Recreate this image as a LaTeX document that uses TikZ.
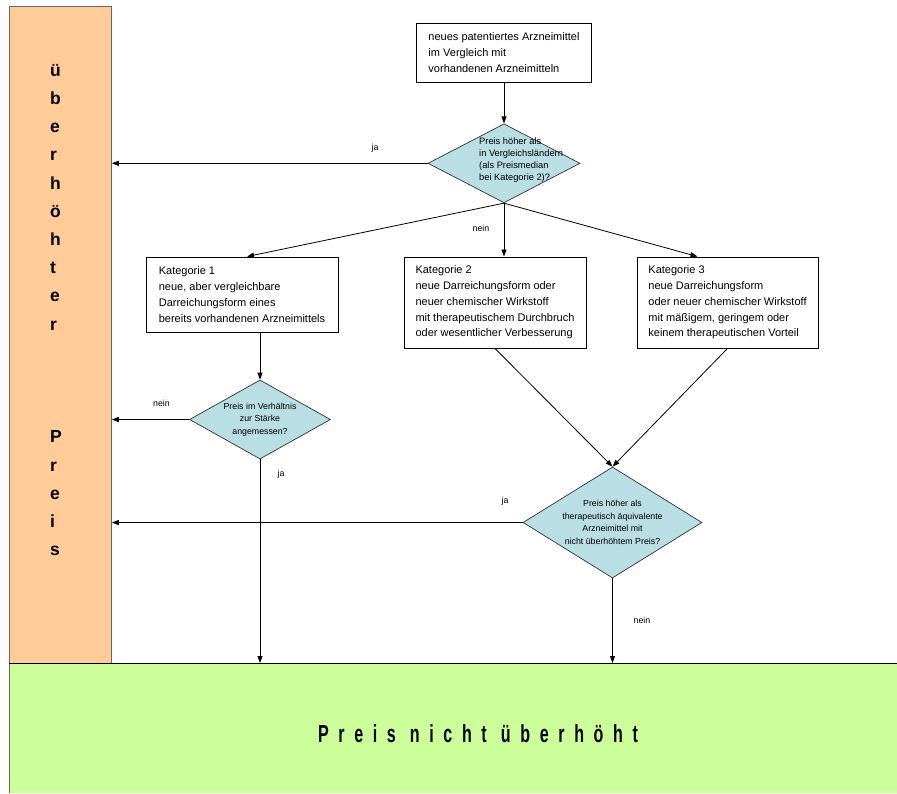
\documentclass[tikz,border=0pt]{standalone}
\usepackage{fontspec}
\setmainfont{Liberation Sans}
\newfontfamily\bandfont{Liberation Sans}[FakeStretch=0.65, LetterSpace=39]
\usepackage{tikz}
\usetikzlibrary{shapes.geometric, arrows.meta, positioning}

\definecolor{barorange}{RGB}{255,204,153}
\definecolor{bandgreen}{RGB}{204,255,153}
\definecolor{decteal}{RGB}{185,222,228}

\begin{document}
\begin{tikzpicture}[
        x=1pt, y=-1pt,
        box/.style={rectangle, draw, line width=0.9pt, inner xsep=8pt, align=left, font={\fontsize{11pt}{15.8pt}\selectfont}},
        decision/.style={diamond, draw=black!80, line width=0.7pt, fill=decteal, inner sep=0pt},
        qtext/.style={inner sep=0pt, font={\fontsize{8.8pt}{12.6pt}\selectfont}},
        lbl/.style={inner sep=0pt, font={\fontsize{8.8pt}{10pt}\selectfont}},
        arrow/.style={-{Triangle[length=7pt, width=5pt]}, line width=0.8pt}
    ]
        \useasboundingbox (0,0) rectangle (897,793);

        % Bands
        \node[fill=bandgreen, inner sep=0pt, minimum width=888pt, minimum height=130pt, anchor=north west] (band) at (9,663) {};
        \draw[black!60, line width=0.8pt] (band.south west) -- (band.north west);
        \node[draw=black!60, line width=0.8pt, fill=barorange, inner sep=0pt, minimum width=102pt, minimum height=657pt, anchor=north west] (bar) at (9,6) {};
        \draw[line width=0.9pt] (band.north west) -- (band.north east);
        \node[inner sep=0pt, anchor=west, align=left, font={\bfseries\fontsize{17.5pt}{28.2pt}\selectfont}] (bartext) at (50,310)
            {ü\\b\\e\\r\\h\\ö\\h\\t\\e\\r\\[84.6pt]P\\r\\e\\i\\s};
        \node[inner sep=0pt, font={\bandfont\bfseries\fontsize{24.7pt}{26pt}\selectfont}] (bandtext) at (478,734) {Preis nicht überhöht};

        % Start
        \node[box, minimum width=175pt, minimum height=59pt] (start) at (504,52.5)
            {neues patentiertes Arzneimittel\\im Vergleich mit\\vorhandenen Arzneimitteln};
        \node[decision, minimum width=152pt, minimum height=79pt, below=41pt of start] (q1) {};
        \node[qtext, anchor=west, align=left, font={\fontsize{9.3pt}{12.2pt}\selectfont}] (q1t) at (479,160)
            {Preis höher als\\in Vergleichsländern\\(als Preismedian\\bei Kategorie 2)?};

        % Kategorien
        \node[box, minimum width=192pt, minimum height=75pt] (k1) at (242,294.5)
            {Kategorie 1\\neue, aber vergleichbare\\Darreichungsform eines\\bereits vorhandenen Arzneimittels};
        \node[box, minimum width=182pt, minimum height=91pt] (k2) at (495,302.5)
            {Kategorie 2\\neue Darreichungsform oder\\neuer chemischer Wirkstoff\\mit therapeutischem Durchbruch\\oder wesentlicher Verbesserung};
        \node[box, minimum width=181pt, minimum height=91pt] (k3) at (727.5,302.5)
            {Kategorie 3\\neue Darreichungsform\\oder neuer chemischer Wirkstoff\\mit mäßigem, geringem oder\\keinem therapeutischen Vorteil};

        % Weitere Abfragen
        \node[decision, minimum width=141pt, minimum height=79pt] (q2) at (260,419.5) {};
        \node[qtext, align=center] (q2t) at (q2.center) {Preis im Verhältnis\\zur Stärke\\angemessen?};
        \node[decision, minimum width=179pt, minimum height=111pt] (q3) at (612.5,522.5) {};
        \node[qtext, align=center] (q3t) at (q3.center)
            {Preis höher als\\therapeutisch äquivalente\\Arzneimittel mit\\nicht überhöhtem Preis?};

        % Arrows
        \draw[arrow] (start) -- (q1);
        \draw[arrow] (q1.west) -- (q1.west -| bar.east);
        \draw[arrow] (q1.south) -- ([xshift=5pt]k1.north);
        \draw[arrow] (q1.south) -- (q1.south |- k2.north);
        \draw[arrow] (q1.south) -- ([xshift=-30pt]k3.north);
        \draw[arrow] (q2.north |- k1.south) -- (q2.north);
        \draw[arrow] (k2.south) -- (q3.north);
        \draw[arrow] (k3.south) -- (q3.north);
        \draw[arrow] (q2.west) -- (q2.west -| bar.east);
        \draw[arrow] (q2.south) -- (q2.south |- band.north);
        \draw[arrow] (q3.west) -- (q3.west -| bar.east);
        \draw[arrow] (q3.south) -- (q3.south |- band.north);

        % Labels
        \node[lbl] (ja1) at (375,148) {ja};
        \node[lbl] (nein1) at (481,228) {nein};
        \node[lbl] (nein2) at (161.5,403) {nein};
        \node[lbl] (ja2) at (281,474) {ja};
        \node[lbl] (ja3) at (505,501) {ja};
        \node[lbl] (nein3) at (642,620) {nein};

    \end{tikzpicture}
\end{document}
